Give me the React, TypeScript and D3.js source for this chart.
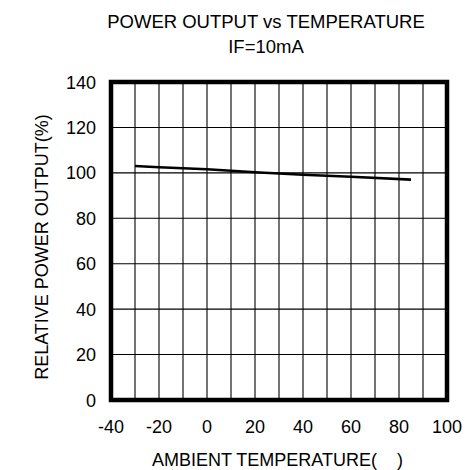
import * as d3 from "d3";
import { useEffect, useRef } from "react";

const temps = [-30, -20, 0, 20, 40, 60, 85];
const power = [103, 102.5, 101.6, 100.3, 99.2, 98.3, 97];
const xTicks = [-40, -20, 0, 20, 40, 60, 80, 100];
const yTicks = [0, 20, 40, 60, 80, 100, 120, 140];
const xGrid = [-30, -20, -10, 0, 10, 20, 30, 40, 50, 60, 70, 80, 90];
const yGrid = [20, 40, 60, 80, 100, 120];

export default function App() {
  const ref = useRef<HTMLDivElement>(null);

  useEffect(() => {
    const width = 465;
    const height = 470;
    const font = "'Liberation Sans', Arial, sans-serif";

    d3.select(ref.current).select("svg").remove();

    const svg = d3
      .select(ref.current)
      .append("svg")
      .attr("width", width)
      .attr("height", height)
      .style("display", "block")
      .style("font-family", font);

    svg.append("rect").attr("width", width).attr("height", height).attr("fill", "#fff");

    const x = d3.scaleLinear().domain([-40, 100]).range([111, 447]);
    const y = d3.scaleLinear().domain([0, 140]).range([400, 82]);

    // grid
    svg
      .append("g")
      .selectAll("line")
      .data(xGrid)
      .enter()
      .append("line")
      .attr("x1", (d) => x(d))
      .attr("x2", (d) => x(d))
      .attr("y1", y(0))
      .attr("y2", y(140))
      .attr("stroke", "#000")
      .attr("stroke-width", 1.1);

    svg
      .append("g")
      .selectAll("line")
      .data(yGrid)
      .enter()
      .append("line")
      .attr("x1", x(-40))
      .attr("x2", x(100))
      .attr("y1", (d) => y(d))
      .attr("y2", (d) => y(d))
      .attr("stroke", "#000")
      .attr("stroke-width", 1.1);

    // frame
    svg
      .append("rect")
      .attr("x", x(-40))
      .attr("y", y(140))
      .attr("width", x(100) - x(-40))
      .attr("height", y(0) - y(140))
      .attr("fill", "none")
      .attr("stroke", "#000")
      .attr("stroke-width", 4.5);

    // data line
    const line = d3
      .line<number>()
      .x((d, i) => x(temps[i]))
      .y((d) => y(d));

    svg
      .append("path")
      .datum(power)
      .attr("d", line)
      .attr("fill", "none")
      .attr("stroke", "#000")
      .attr("stroke-width", 2.6);

    // tick labels
    svg
      .append("g")
      .selectAll("text")
      .data(yTicks)
      .enter()
      .append("text")
      .attr("x", 96)
      .attr("y", (d) => y(d) + 6.5)
      .attr("text-anchor", "end")
      .attr("font-size", 18)
      .text((d) => d);

    svg
      .append("g")
      .selectAll("text")
      .data(xTicks)
      .enter()
      .append("text")
      .attr("x", (d) => x(d))
      .attr("y", 433)
      .attr("text-anchor", "middle")
      .attr("font-size", 18)
      .text((d) => d);

    // titles
    svg
      .append("text")
      .attr("x", 266)
      .attr("y", 28)
      .attr("text-anchor", "middle")
      .attr("font-size", 18.5)
      .text("POWER OUTPUT vs TEMPERATURE");

    svg
      .append("text")
      .attr("x", 266)
      .attr("y", 53)
      .attr("text-anchor", "middle")
      .attr("font-size", 18.5)
      .text("IF=10mA");

    svg
      .append("text")
      .attr("x", 152)
      .attr("y", 466)
      .attr("font-size", 18)
      .style("white-space", "pre")
      .text("AMBIENT TEMPERATURE(    )");

    svg
      .append("text")
      .attr("transform", "translate(48,247) rotate(-90)")
      .attr("text-anchor", "middle")
      .attr("font-size", 18)
      .text("RELATIVE POWER OUTPUT(%)");
  }, []);

  return <div ref={ref} style={{ position: "absolute", left: 0, top: 0 }}></div>;
}
